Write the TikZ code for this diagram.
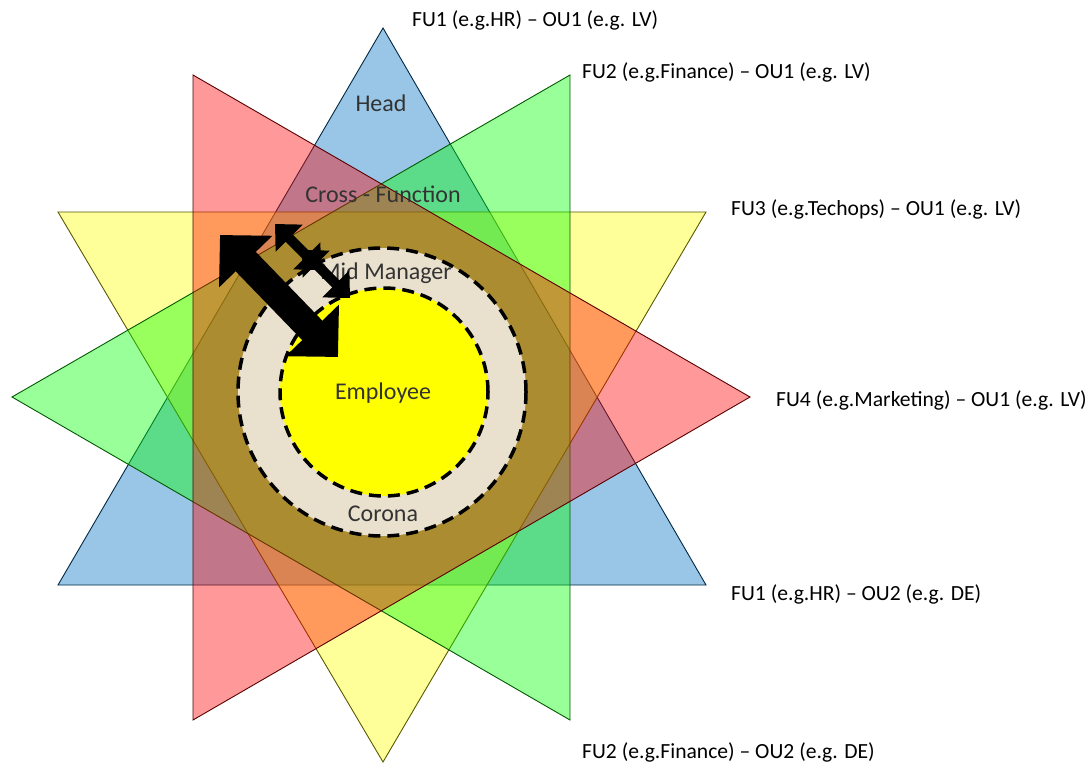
\documentclass[tikz,border=0pt]{standalone}
\usepackage{fontspec}
\setmainfont{Carlito}
\usetikzlibrary{arrows.meta}
\definecolor{tblue}{RGB}{0,112,192}
\definecolor{tred}{RGB}{255,0,0}
\definecolor{tgreen}{RGB}{0,255,0}
\definecolor{tyellow}{RGB}{255,255,0}
\definecolor{beige}{RGB}{234,224,206}
\definecolor{sun}{RGB}{255,255,0}
\begin{document}
\begin{tikzpicture}[x=1pt,y=-1pt,
  tri/.style={fill=#1, fill opacity=0.4, draw=#1!35!black, line width=0.9pt, line join=miter},
  ring/.style={draw=black, line width=3.5pt, dash pattern=on 12pt off 7pt, circle, inner sep=0pt},
  inlabel/.style={font=\fontsize{24}{28}\selectfont, text=black!80, inner sep=0pt},
  outlabel/.style={font=\fontsize{21.6}{26}\selectfont, anchor=west, inner sep=0pt, text=black},
  bigarrow/.style={line width=28pt, {Triangle[length=37pt,width=72pt]}-{Triangle[length=37pt,width=72pt]}},
  smallarrow/.style={line width=10pt, {Triangle[length=20pt,width=37pt]}-{Triangle[length=20pt,width=37pt]}}
]
\useasboundingbox (0,0) rectangle (1091,765);
% triangles (order: blue, yellow, green, red)
\draw[tri=tblue]   (383,28) -- (58,585) -- (706,585) -- cycle;
\draw[tri=tyellow] (58,212) -- (706,212) -- (383,762) -- cycle;
\draw[tri=tgreen]  (12,397) -- (570,75) -- (570,720) -- cycle;
\draw[tri=tred]    (193,75) -- (193,720) -- (750,397) -- cycle;
% circles
\node[ring, fill=beige, minimum size=288pt] (corona) at (382,392) {};
\node[ring, fill=sun, minimum size=208pt] (employee) at (384,392) {};
% inner labels
\node[inlabel] (head) at (381,103) {Head};
\node[inlabel] (cross) at (383,194) {Cross - Function};
\node[inlabel] (mid) at (386,273) {Mid Manager};
\node[inlabel] (emp) at (383,393) {Employee};
\node[inlabel] (cor) at (383,514) {Corona};
% arrows
\coordinate (b1) at (220,235);
\coordinate (b2) at (338,357);
\coordinate (s1) at (275,224);
\coordinate (s2) at (321,270);
\coordinate (s3) at (302,250);
\coordinate (s4) at (350,298);
\draw[bigarrow] (b1) -- (b2);
\draw[smallarrow] (s1) -- (s2);
\draw[smallarrow] (s3) -- (s4);
% outer labels
\node[outlabel] (l1) at (412,20) {FU1 (e.g.HR) – OU1 (e.g. LV)};
\node[outlabel] (l2) at (582,72) {FU2 (e.g.Finance) – OU1 (e.g. LV)};
\node[outlabel] (l3) at (731,209) {FU3 (e.g.Techops) – OU1 (e.g. LV)};
\node[outlabel] (l4) at (776,400) {FU4 (e.g.Marketing) – OU1 (e.g. LV)};
\node[outlabel] (l5) at (731,594) {FU1 (e.g.HR) – OU2 (e.g. DE)};
\node[outlabel] (l6) at (582,752) {FU2 (e.g.Finance) – OU2 (e.g. DE)};
\end{tikzpicture}
\end{document}
